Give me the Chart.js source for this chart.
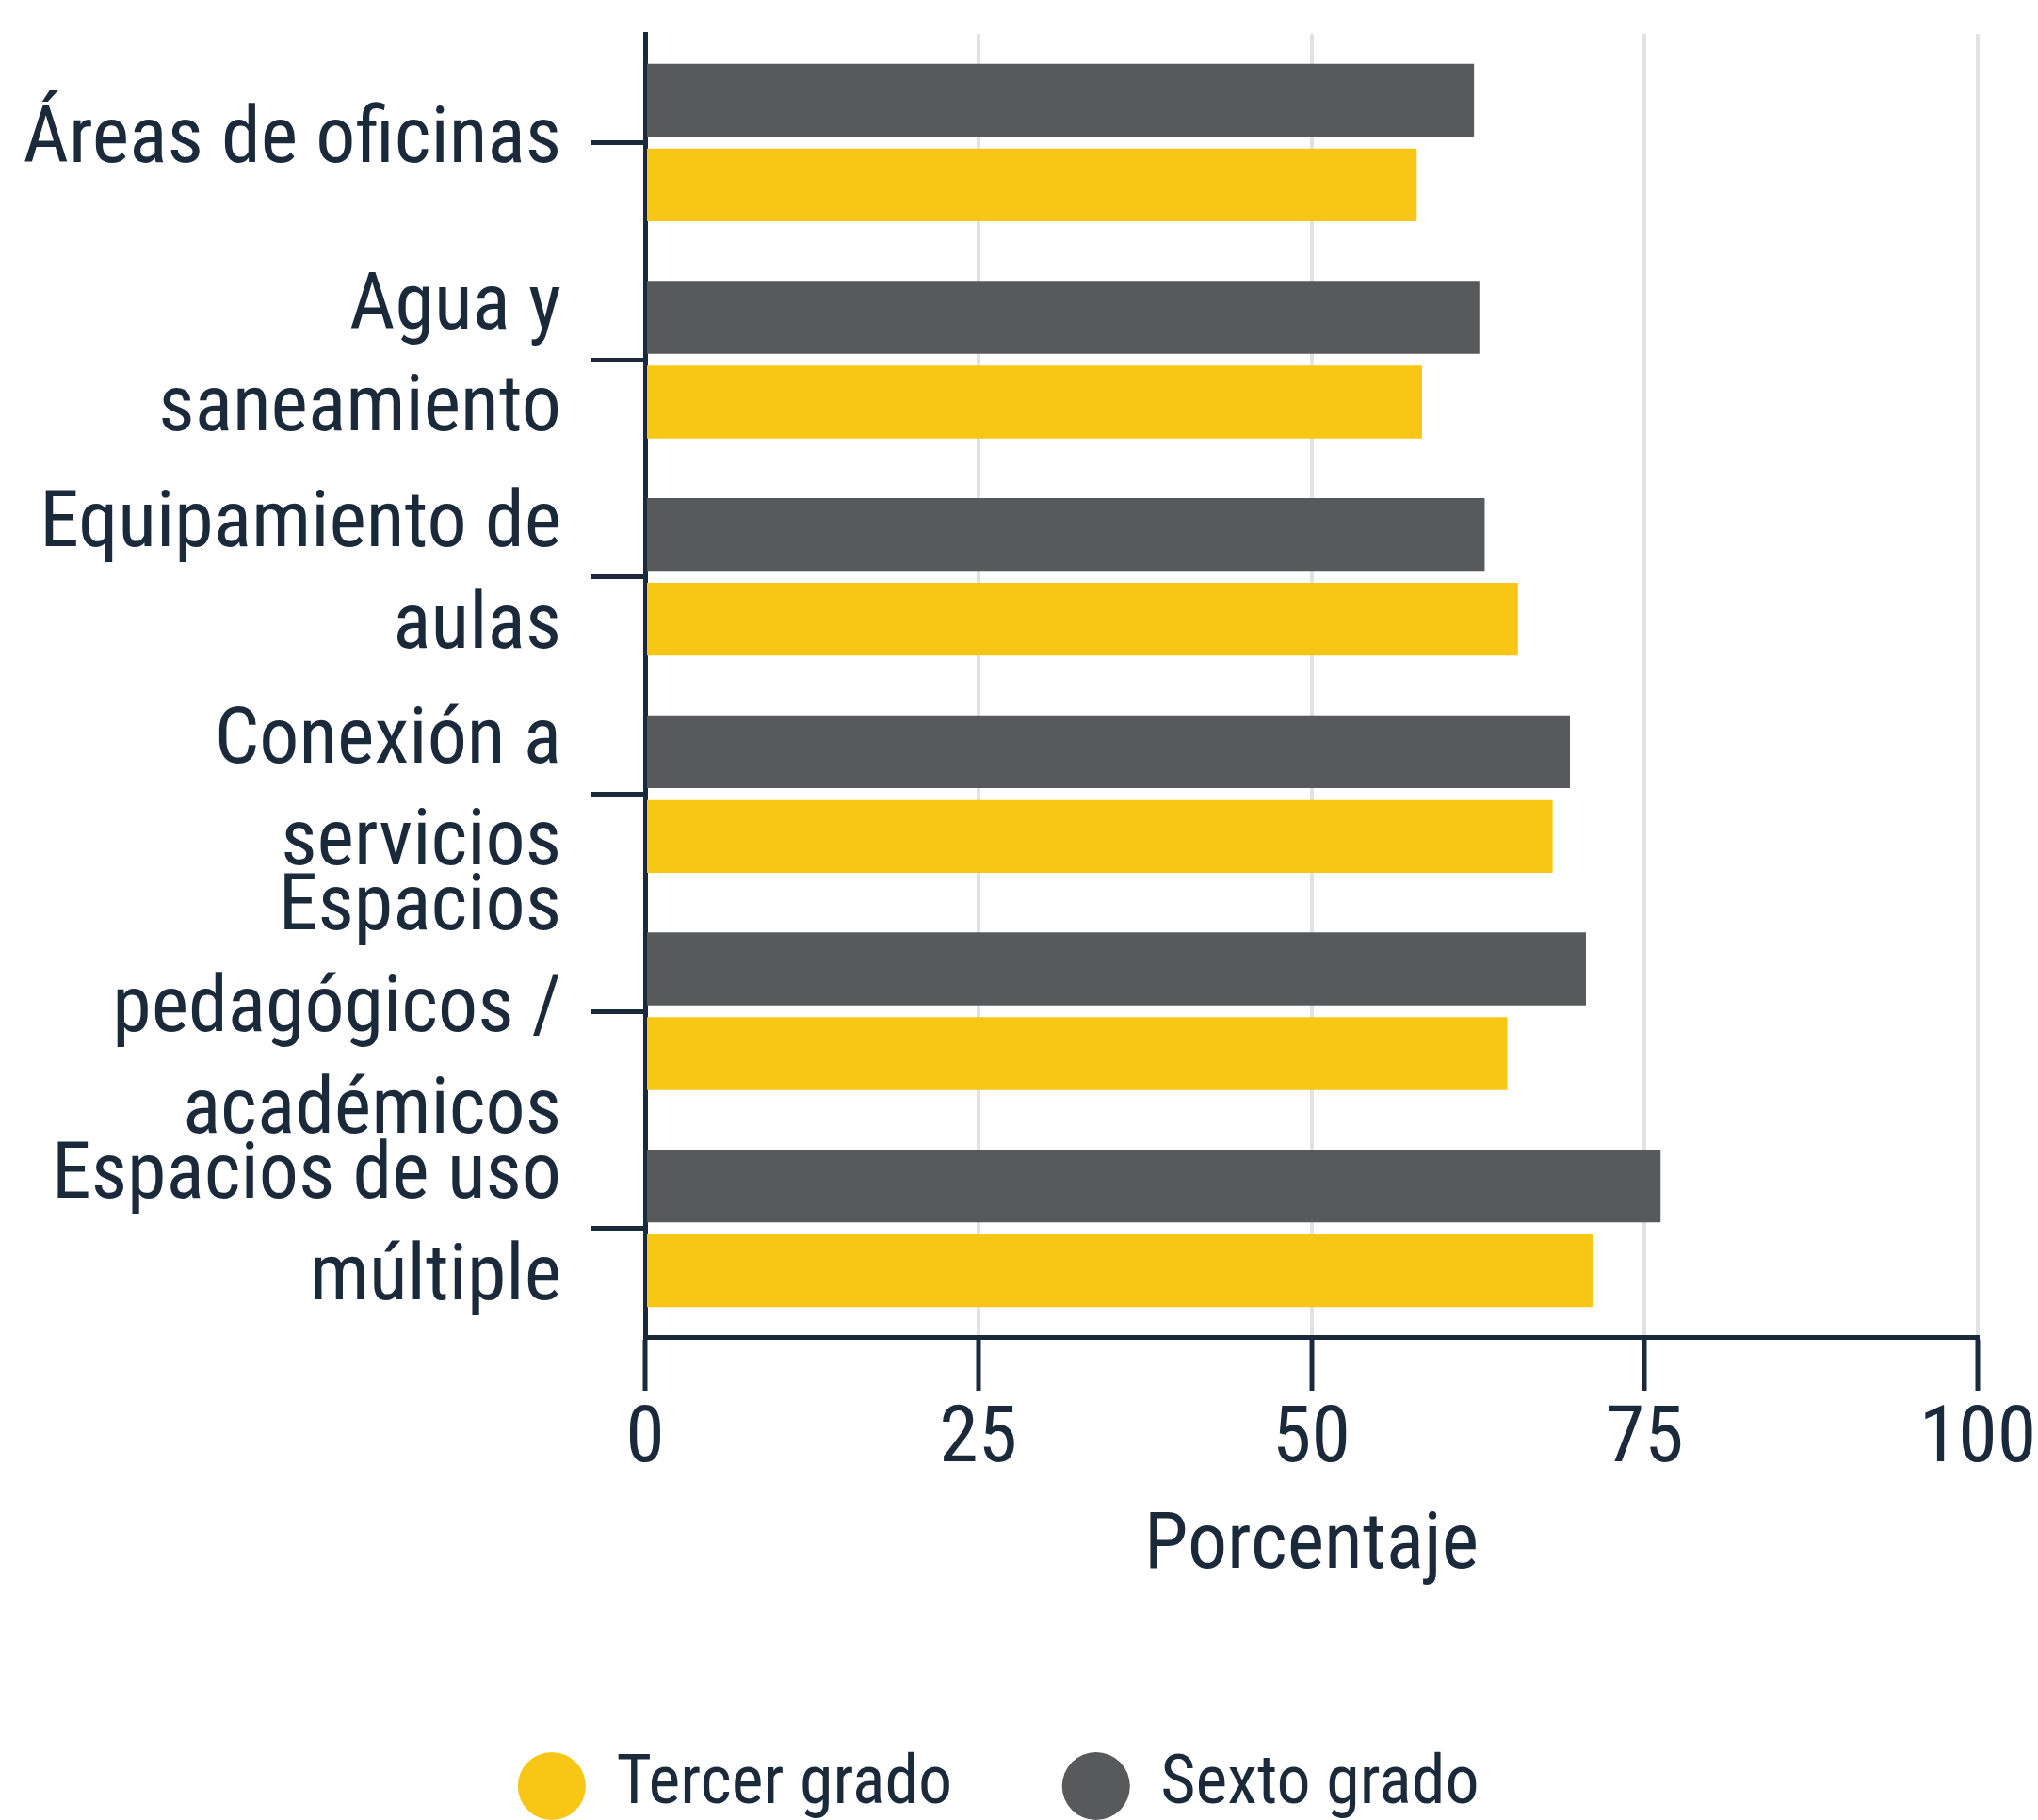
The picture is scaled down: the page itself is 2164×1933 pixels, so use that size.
<html>
  <head>
    <script src="https://cdn.jsdelivr.net/npm/chart.js"></script>
    <style>
      html, body { margin: 0; padding: 0; background: #ffffff; }
      #frame { width: 2164px; height: 1933px; overflow: hidden; }
      #box { width: 2164px; height: 1943px; position: relative; }
    </style>
  </head>
  <body>
  <div id="frame">
    <div id="box">
      <canvas id="myChart"></canvas>
    </div>
  </div>
    <script>
// categorias (eje y) y series
const categorias = [
  ['Áreas de oficinas'],
  ['Agua y', 'saneamiento'],
  ['Equipamiento de', 'aulas'],
  ['Conexión a', 'servicios'],
  ['Espacios', 'pedagógicos /', 'académicos'],
  ['Espacios de uso', 'múltiple']
];
const sextoGrado = [62.2, 62.6, 63.0, 69.4, 70.6, 76.2];
const tercerGrado = [57.9, 58.3, 65.5, 68.1, 64.7, 71.1];
const ticksX = [0, 25, 50, 75, 100];

const AMARILLO = '#f8c614';
const GRIS = '#58595b';
const TEXTO = '#1b2a3a';
const FUENTE = "'Roboto Condensed', 'DejaVu Sans Condensed', Roboto, sans-serif";

const data = {
  labels: categorias,
  datasets: [{
    label: 'Sexto grado',
    backgroundColor: GRIS,
    data: sextoGrado,
    categoryPercentage: 0.78,
    barPercentage: 0.86
  }, {
    label: 'Tercer grado',
    backgroundColor: AMARILLO,
    data: tercerGrado,
    categoryPercentage: 0.78,
    barPercentage: 0.86
  }]
};

const config = {
  type: 'bar',
  data: data,
  options: {
    indexAxis: 'y',
    responsive: true,
    maintainAspectRatio: false,
    animation: false,
    layout: { padding: { left: 0, right: 40, top: 36, bottom: 0 } },
    scales: {
      x: {
        min: 0,
        max: 100,
        afterBuildTicks: (scale) => { scale.ticks = ticksX.map(v => ({ value: v })); },
        afterFit: (scale) => { scale.height = 321; scale.paddingLeft = 0; scale.paddingRight = 64; },
        grid: {
          color: '#e2e2e2',
          lineWidth: 4,
          tickLength: 57,
          tickColor: TEXTO,
          tickWidth: 5
        },
        border: { color: TEXTO, width: 5 },
        ticks: {
          color: TEXTO,
          padding: 4,
          font: { family: FUENTE, size: 84 }
        },
        title: {
          display: true,
          text: 'Porcentaje',
          color: TEXTO,
          font: { family: FUENTE, size: 84 },
          padding: { top: 0, bottom: 47 }
        }
      },
      y: {
        afterFit: (scale) => { scale.width = 685; scale.paddingTop = 0; scale.paddingBottom = 0; },
        grid: {
          offset: false,
          drawOnChartArea: false,
          tickLength: 57,
          tickColor: TEXTO,
          lineWidth: 5
        },
        border: { color: TEXTO, width: 5 },
        ticks: {
          color: TEXTO,
          padding: 32,
          autoSkip: false,
          font: { family: FUENTE, size: 84, lineHeight: 1.286 }
        }
      }
    },
    plugins: {
      tooltip: { enabled: false },
      legend: {
        position: 'bottom',
        reverse: true,
        labels: {
          usePointStyle: true,
          pointStyle: 'circle',
          boxWidth: 65,
          boxHeight: 51,
          padding: 120,
          color: TEXTO,
          font: { family: FUENTE, size: 72 }
        }
      }
    }
  }
};

const myChart = new Chart(document.getElementById('myChart'), config);
    </script>
  </body>
</html>
